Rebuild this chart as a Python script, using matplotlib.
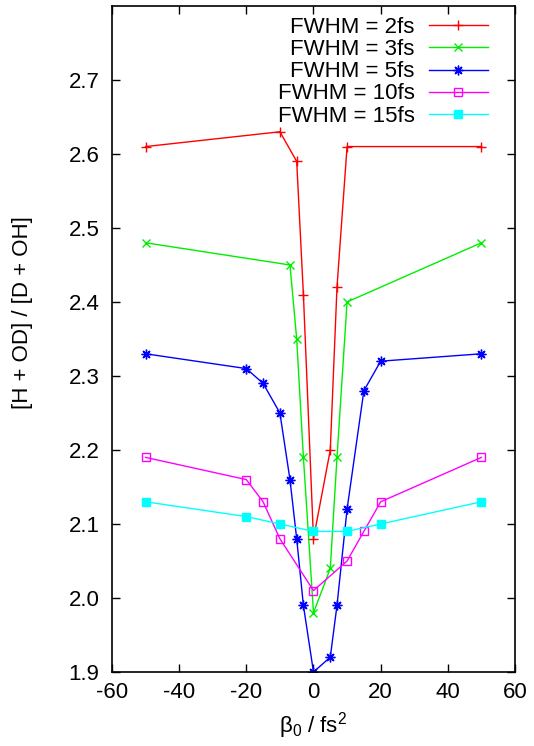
import matplotlib
matplotlib.use("Agg")
import matplotlib.pyplot as plt

plt.rcParams['font.family'] = ['Liberation Sans', 'DejaVu Sans']
plt.rcParams['mathtext.default'] = 'regular'

# Data
x_2fs = [-50, -10, -5, -3, 0, 5, 7, 10, 50]
y_2fs = [2.61, 2.63, 2.59, 2.41, 2.08, 2.20, 2.42, 2.61, 2.61]

x_3fs = [-50, -7, -5, -3, 0, 5, 7, 10, 50]
y_3fs = [2.48, 2.45, 2.35, 2.19, 1.98, 2.04, 2.19, 2.40, 2.48]

x_5fs = [-50, -20, -15, -10, -7, -5, -3, 0, 5, 7, 10, 15, 20, 50]
y_5fs = [2.33, 2.31, 2.29, 2.25, 2.16, 2.08, 1.99, 1.90, 1.92, 1.99, 2.12, 2.28, 2.32, 2.33]

x_10fs = [-50, -20, -15, -10, 0, 10, 15, 20, 50]
y_10fs = [2.19, 2.16, 2.13, 2.08, 2.01, 2.05, 2.09, 2.13, 2.19]

x_15fs = [-50, -20, -10, 0, 10, 20, 50]
y_15fs = [2.13, 2.11, 2.10, 2.09, 2.09, 2.10, 2.13]

labels = ["FWHM = 2fs", "FWHM = 3fs", "FWHM = 5fs", "FWHM = 10fs", "FWHM = 15fs"]
xticks = [-60, -40, -20, 0, 20, 40, 60]
yticks = [1.9, 2.0, 2.1, 2.2, 2.3, 2.4, 2.5, 2.6, 2.7]

fs = 16

fig = plt.figure(figsize=(5.34, 7.46), dpi=100)
ax = fig.add_axes([0.2097, 0.0992, 0.7547, 0.8928])

lw = 1.0
ax.plot(x_2fs, y_2fs, color='#ff0000', lw=lw, marker='+', ms=7, mew=1.0, label=labels[0])
ax.plot(x_3fs, y_3fs, color='#00ee00', lw=lw, marker='x', ms=6, mew=1.0, label=labels[1])
ax.plot(x_5fs, y_5fs, color='#0000ff', lw=lw, marker=(8, 2, 0), ms=7, mew=1.0, label=labels[2])
ax.plot(x_10fs, y_10fs, color='#ff00ff', lw=lw, marker='s', ms=6, mfc='none', mew=1.0, label=labels[3])
ax.plot(x_15fs, y_15fs, color='#00ffff', lw=lw, marker='s', ms=6, mew=1.0, label=labels[4])

ax.set_xlim(-60, 60)
ax.set_ylim(1.9, 2.8)
ax.set_xticks(xticks)
ax.set_xticklabels([str(v) for v in xticks])
ax.set_yticks(yticks)
ax.set_yticklabels([f"{v:.1f}" for v in yticks])

ax.tick_params(direction='in', top=True, right=True, length=6, width=1.0,
               labelsize=fs, pad=9)
ax.tick_params(axis='x', pad=7)
for s in ax.spines.values():
    s.set_linewidth(1.2)

ax.set_xlabel(r"β$_0$ / fs$^2$", fontsize=fs, labelpad=5)
ax.set_ylabel("[H + OD] / [D + OH]", fontsize=fs)
ax.yaxis.set_label_coords(-0.196, 0.539)

leg = ax.legend(loc='upper right', frameon=False, markerfirst=False, fontsize=fs,
                handlelength=2.65, handletextpad=0.65, labelspacing=0.05,
                borderaxespad=0.0, borderpad=0.5, bbox_to_anchor=(0.96, 1.0))

fig.savefig("out.png", dpi=100)
